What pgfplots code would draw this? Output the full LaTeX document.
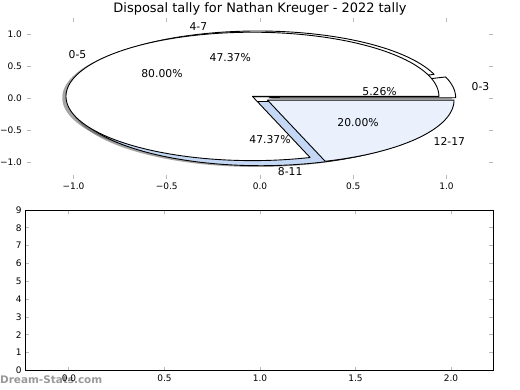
\documentclass[border=0pt]{standalone}
\usepackage{fontspec}
\setmainfont{DejaVu Sans}
\usepackage{pgfplots}
\pgfplotsset{compat=1.18}
\pgfkeys{/pgf/number format/assume math mode=true}
\definecolor{blueA}{RGB}{196,215,244}
\definecolor{blueB}{RGB}{234,240,252}
\definecolor{tickgray}{RGB}{185,185,185}

% geometry of one exploded wedge: #1 = sum of values before it, #2 = value, #3 = total
\newcommand\wedgegeom[3]{%
  \pgfmathsetmacro\wa{360*(#1)/(#3)}%
  \pgfmathsetmacro\wb{360*((#1)+(#2))/(#3)}%
  \pgfmathsetmacro\wm{(\wa+\wb)/2}%
  \pgfmathsetmacro\wcx{0.05*cos(\wm)}%
  \pgfmathsetmacro\wcy{0.05*sin(\wm)}%
}
\newcommand\pieshadow[3]{%
  \wedgegeom{#1}{#2}{#3}%
  \pgfmathsetmacro\wcx{\wcx-0.02}%
  \pgfmathsetmacro\wcy{\wcy-0.02}%
  \edef\tmp{\noexpand\addplot[draw=none, fill=black!70, fill opacity=0.5, domain=\wa:\wb, samples=150] ({\wcx+cos(\noexpand\x)}, {\wcy+sin(\noexpand\x)}) -- (\wcx,\wcy) -- cycle;}%
  \tmp}
\newcommand\piewedge[4]{%
  \wedgegeom{#1}{#2}{#3}%
  \edef\tmp{\noexpand\addplot[draw=black, line width=1bp, line join=round, fill=#4, domain=\wa:\wb, samples=150] ({\wcx+cos(\noexpand\x)}, {\wcy+sin(\noexpand\x)}) -- (\wcx,\wcy) -- cycle;}%
  \tmp}
\newcommand\pielabels[4]{%
  \wedgegeom{#1}{#2}{#3}%
  \pgfmathsetmacro\lx{\wcx+1.1*cos(\wm)}%
  \pgfmathsetmacro\ly{\wcy+1.1*sin(\wm)}%
  \pgfmathsetmacro\ppx{\wcx+0.6*cos(\wm)}%
  \pgfmathsetmacro\ppy{\wcy+0.6*sin(\wm)}%
  \pgfmathsetmacro\pct{100*(#2)/(#3)}%
  \pgfmathtruncatemacro\lpos{\lx>0}%
  \ifnum\lpos=1 \def\lanchor{west}\else\def\lanchor{east}\fi
  \edef\tmp{\noexpand\node[anchor=\lanchor, inner sep=0pt, font=\noexpand\piefont] at (\lx,\ly) {#4};
    \noexpand\node[inner sep=0pt, font=\noexpand\piefont] at (\ppx,\ppy) {\noexpand\pgfmathprintnumber[fixed,fixed zerofill,precision=2,assume math mode=true]{\pct}\noexpand\%};}%
  \tmp}
\newcommand\piefont{\fontsize{12}{14}\selectfont}

\begin{document}
\begin{tikzpicture}[font=\fontsize{10}{12}\selectfont]
\useasboundingbox (0,0) rectangle (576bp,432bp);

\begin{axis}[
  at={(29.8bp,234.2bp)}, anchor=south west,
  scale only axis, width=516.4bp, height=177.8bp,
  xmin=-1.25, xmax=1.25, ymin=-1.25, ymax=1.25,
  axis line style={draw=none},
  xtick={-1,-0.5,0,0.5,1}, xticklabels={−1.0,−0.5,0.0,0.5,1.0},
  ytick={-1,-0.5,0,0.5,1}, yticklabels={−1.0,−0.5,0.0,0.5,1.0},
  xtick pos=both, ytick pos=both,
  tick align=inside, major tick length=4bp,
  every tick/.style={tickgray, line width=1bp},
  tick label style={font=\fontsize{10}{12}\selectfont, inner sep=0pt},
  xticklabel shift=4.9bp, yticklabel shift=5.4bp,
  clip=false,
  /pgf/number format/assume math mode=true,
  title={Disposal tally for Nathan Kreuger - 2022 tally},
  every axis title/.style={at={(0.5,1)}, anchor=base, yshift=6.2bp, font=\fontsize{14.4}{17}\selectfont, inner sep=0pt},
]
% shadows (pie A: 0-3, 4-7, 8-11 = 1, 9, 9; pie B: 0-5, 12-17 = 4, 1)
\pieshadow{0}{1}{19}
\pieshadow{1}{9}{19}
\pieshadow{10}{9}{19}
\pieshadow{0}{4}{5}
\pieshadow{4}{1}{5}
% pie A
\piewedge{0}{1}{19}{white}
\piewedge{1}{9}{19}{white}
\piewedge{10}{9}{19}{blueA}
% pie B
\piewedge{0}{4}{5}{white}
\piewedge{4}{1}{5}{blueB}
% labels
\pielabels{0}{1}{19}{0-3}
\pielabels{1}{9}{19}{4-7}
\pielabels{10}{9}{19}{8-11}
\pielabels{0}{4}{5}{0-5}
\pielabels{4}{1}{5}{12-17}
\end{axis}

\node[anchor=west, inner sep=0pt, text=black!40, font=\bfseries\fontsize{11.6}{13}\selectfont] at (0bp,11bp) {Dream-Stats.com};

\begin{axis}[
  at={(27.7bp,21.6bp)}, anchor=south west,
  scale only axis, width=518.4bp, height=177.8bp,
  xmin=-0.23, xmax=2.22, ymin=0, ymax=9,
  axis line style={black, line width=1bp},
  xtick={0,0.5,1,1.5,2}, xticklabels={0.0,0.5,1.0,1.5,2.0},
  ytick={0,1,2,3,4,5,6,7,8,9},
  xtick pos=both, ytick pos=both,
  tick align=inside, major tick length=4bp,
  every tick/.style={tickgray, line width=1bp},
  tick label style={font=\fontsize{10}{12}\selectfont, inner sep=0pt},
  xticklabel shift=4.9bp, yticklabel shift=3.7bp,
  /pgf/number format/assume math mode=true,
]
\end{axis}
\end{tikzpicture}
\end{document}
